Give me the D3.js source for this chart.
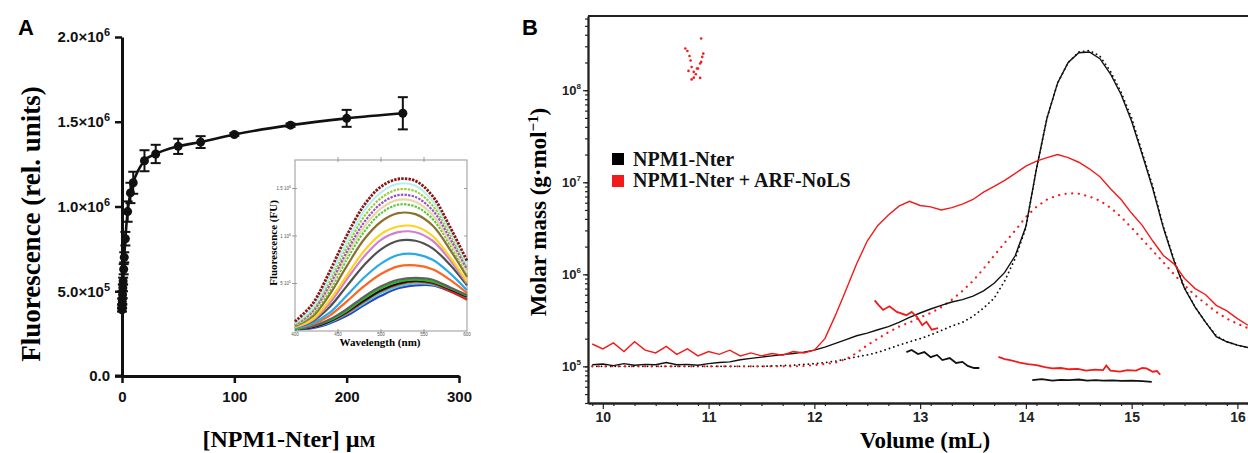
<!DOCTYPE html>
<html>
<head>
<meta charset="utf-8">
<script src="https://cdn.jsdelivr.net/npm/d3@7"></script>
<style>
  body { margin: 0; background: #fff; }
  svg { display: block; }
</style>
</head>
<body>
<svg id="fig" width="1248" height="453"></svg>
<script>
// ---------- panel A : titration ----------
const conc    = [0, 0.1, 0.25, 0.5, 0.75, 1, 1.5, 2, 3, 5, 7.5, 10, 20, 30, 50, 70, 100, 150, 200, 250];
const fluo    = [0.39, 0.41, 0.44, 0.48, 0.52, 0.56, 0.63, 0.70, 0.81, 0.97, 1.08, 1.14, 1.27, 1.31, 1.355, 1.38, 1.425, 1.48, 1.52, 1.55];
const fluoErr = [0.01, 0.01, 0.015, 0.02, 0.02, 0.02, 0.03, 0.03, 0.04, 0.06, 0.06, 0.065, 0.062, 0.054, 0.045, 0.035, 0.008, 0.01, 0.05, 0.095];
const aYTicks = [0, 0.5, 1.0, 1.5, 2.0];
const aXTicks = [0, 100, 200, 300];

// inset : emission spectra (x 10^6 FU)
const wavelength = [400, 420, 440, 460, 480, 500, 520, 540, 560, 580, 600];
const spectra = [
  [0.10, 0.28, 0.62, 1.00, 1.32, 1.52, 1.60, 1.58, 1.42, 1.10, 0.74],
  [0.08, 0.24, 0.56, 0.93, 1.26, 1.46, 1.55, 1.53, 1.37, 1.06, 0.70],
  [0.07, 0.22, 0.52, 0.88, 1.20, 1.40, 1.49, 1.47, 1.32, 1.02, 0.68],
  [0.06, 0.20, 0.48, 0.83, 1.14, 1.34, 1.43, 1.41, 1.27, 0.98, 0.65],
  [0.06, 0.19, 0.45, 0.79, 1.09, 1.29, 1.38, 1.36, 1.22, 0.94, 0.62],
  [0.05, 0.17, 0.42, 0.75, 1.04, 1.24, 1.33, 1.31, 1.18, 0.91, 0.60],
  [0.05, 0.15, 0.38, 0.68, 0.96, 1.15, 1.24, 1.23, 1.11, 0.86, 0.57],
  [0.04, 0.12, 0.32, 0.58, 0.84, 1.02, 1.10, 1.10, 1.00, 0.78, 0.52],
  [0.04, 0.11, 0.29, 0.54, 0.78, 0.96, 1.04, 1.04, 0.95, 0.75, 0.50],
  [0.04, 0.10, 0.25, 0.47, 0.69, 0.86, 0.95, 0.95, 0.87, 0.70, 0.48],
  [0.03, 0.08, 0.19, 0.37, 0.56, 0.71, 0.80, 0.81, 0.75, 0.61, 0.43],
  [0.03, 0.07, 0.16, 0.31, 0.47, 0.60, 0.68, 0.69, 0.65, 0.54, 0.40],
  [0.03, 0.05, 0.12, 0.23, 0.36, 0.47, 0.54, 0.56, 0.54, 0.46, 0.38],
  [0.02, 0.05, 0.11, 0.21, 0.34, 0.45, 0.52, 0.54, 0.52, 0.45, 0.37],
  [0.02, 0.04, 0.10, 0.20, 0.32, 0.43, 0.50, 0.53, 0.51, 0.44, 0.36],
  [0.02, 0.04, 0.10, 0.19, 0.31, 0.42, 0.49, 0.52, 0.50, 0.42, 0.33],
  [0.02, 0.04, 0.09, 0.18, 0.29, 0.40, 0.47, 0.50, 0.49, 0.43, 0.35],
  [0.02, 0.03, 0.08, 0.16, 0.27, 0.37, 0.45, 0.48, 0.48, 0.42, 0.34]
];
const spectraColors = ["#8b1414", "#b4f0f0", "#9acd32", "#9b4fc8", "#e8d8a8", "#5cc83c", "#8b7030", "#ffd21e",
  "#d27fd2", "#505050", "#28aae6", "#ff6420", "#606060", "#2db82d", "#111111", "#e62020", "#40d0d0", "#3040c0"];
const insetYTicks = [0.5, 1.0, 1.5];
const insetXTicks = [400, 450, 500, 550, 600];

// ---------- panel B : SEC-MALS ----------
const volume = d3.range(63).map(i => +(9.9 + i * 0.1).toFixed(1));   // 9.9 ... 16.1 mL grid
const blackSolid = [1.04e5, 1.06e5, 1.02e5, 1.07e5, 1.03e5, 1.05e5, 1.04e5, 1.10e5, 1.04e5, 1.05e5, 1.03e5, 1.07e5, 1.10e5, 1.12e5, 1.18e5,
  1.22e5, 1.26e5, 1.30e5, 1.34e5, 1.38e5, 1.43e5, 1.50e5, 1.62e5, 1.78e5, 1.95e5, 2.15e5, 2.30e5, 2.50e5, 2.70e5, 3.0e5, 3.4e5, 3.8e5,
  4.2e5, 4.6e5, 5.0e5, 5.3e5, 5.8e5, 6.6e5, 8.0e5, 1.05e6, 1.6e6, 3.3e6, 1.4e7, 5.0e7, 1.2e8, 2.0e8, 2.55e8, 2.6e8, 2.2e8, 1.5e8,
  9.0e7, 4.6e7, 2.0e7, 8.5e6, 3.2e6, 1.4e6, 7.0e5, 4.4e5, 3.0e5, 2.1e5, 1.85e5, 1.7e5, 1.6e5];
const blackDotted = [1.0e5, 1.0e5, 1.0e5, 1.0e5, 1.0e5, 1.0e5, 1.0e5, 1.0e5, 1.0e5, 1.0e5, 1.0e5, 1.0e5, 1.0e5, 1.0e5, 1.0e5,
  1.0e5, 1.0e5, 1.01e5, 1.02e5, 1.03e5, 1.05e5, 1.07e5, 1.10e5, 1.14e5, 1.20e5, 1.27e5, 1.33e5, 1.42e5, 1.55e5, 1.70e5, 1.85e5, 2.0e5,
  2.2e5, 2.45e5, 2.75e5, 3.0e5, 3.5e5, 4.3e5, 5.5e5, 8.5e5, 1.5e6, 3.2e6, 1.4e7, 5.0e7, 1.2e8, 2.0e8, 2.6e8, 2.7e8, 2.35e8, 1.6e8,
  9.5e7, 5.0e7, 2.1e7, 9.0e6, 3.3e6, 1.45e6, 7.2e5, 4.4e5, 3.0e5, 2.15e5, 1.85e5, 1.7e5, 1.6e5];
const redSolid = [1.75e5, 1.55e5, 1.80e5, 1.45e5, 1.85e5, 1.50e5, 1.40e5, 1.65e5, 1.35e5, 1.55e5, 1.30e5, 1.45e5, 1.35e5, 1.50e5, 1.30e5,
  1.40e5, 1.30e5, 1.38e5, 1.32e5, 1.45e5, 1.40e5, 1.50e5, 2.0e5, 3.6e5, 6.8e5, 1.3e6, 2.3e6, 3.4e6, 4.4e6, 5.5e6, 6.2e6, 5.6e6,
  5.4e6, 5.0e6, 5.3e6, 5.8e6, 6.5e6, 7.8e6, 9.0e6, 1.05e7, 1.25e7, 1.5e7, 1.7e7, 1.85e7, 2.0e7, 1.85e7, 1.65e7, 1.4e7, 1.15e7, 8.5e6,
  6.5e6, 4.6e6, 3.4e6, 2.3e6, 1.6e6, 1.3e6, 9.0e5, 7.0e5, 6.0e5, 4.6e5, 4.0e5, 3.3e5, 2.8e5];
const redDotted = [1.0e5, 1.0e5, 1.0e5, 1.0e5, 1.0e5, 1.0e5, 1.0e5, 1.0e5, 1.0e5, 1.0e5, 1.0e5, 1.0e5, 1.0e5, 1.0e5, 1.0e5,
  1.0e5, 1.0e5, 1.0e5, 1.0e5, 1.0e5, 1.01e5, 1.03e5, 1.06e5, 1.10e5, 1.20e5, 1.40e5, 1.70e5, 2.0e5, 2.35e5, 2.7e5, 3.0e5, 3.4e5,
  3.8e5, 4.4e5, 5.3e5, 6.6e5, 8.5e5, 1.15e6, 1.6e6, 2.2e6, 3.0e6, 4.2e6, 5.4e6, 6.5e6, 7.2e6, 7.6e6, 7.5e6, 7.0e6, 6.3e6, 5.3e6,
  4.2e6, 3.2e6, 2.4e6, 1.8e6, 1.35e6, 1.0e6, 7.6e5, 5.9e5, 4.8e5, 3.9e5, 3.3e5, 2.9e5, 2.6e5];

// molar mass segments [volume mL, g/mol]
const redScatter = [[10.78, 2.84e8], [10.80, 2.67e8], [10.82, 2.35e8], [10.83, 2.10e8], [10.81, 1.62e8], [10.84, 1.79e8], [10.86, 1.58e8],
  [10.88, 1.49e8], [10.84, 1.31e8], [10.86, 1.37e8], [10.92, 1.36e8], [10.90, 1.72e8], [10.92, 1.95e8], [10.93, 2.03e8], [10.95, 2.50e8],
  [10.93, 3.65e8], [10.89, 1.72e8], [10.94, 2.30e8]];
const redMass1 = [[12.57, 5.2e5], [12.61, 4.6e5], [12.65, 4.1e5], [12.71, 4.5e5], [12.78, 3.9e5], [12.87, 3.6e5], [12.92, 3.9e5],
  [12.97, 3.45e5], [13.02, 2.8e5], [13.06, 3.05e5], [13.11, 2.5e5], [13.17, 2.6e5]];
const blackMass1 = [[12.87, 1.43e5], [12.92, 1.51e5], [12.98, 1.36e5], [13.04, 1.43e5], [13.10, 1.26e5], [13.16, 1.33e5], [13.21, 1.17e5],
  [13.28, 1.23e5], [13.34, 1.09e5], [13.40, 1.12e5], [13.45, 1.01e5], [13.51, 9.6e4], [13.56, 9.6e4]];
const redMass2 = [[13.74, 1.27e5], [13.80, 1.20e5], [13.85, 1.17e5], [13.94, 1.10e5], [14.02, 1.06e5], [14.10, 1.03e5], [14.18, 9.8e4],
  [14.25, 9.5e4], [14.33, 9.6e4], [14.41, 9.3e4], [14.49, 9.4e4], [14.57, 9.0e4], [14.65, 9.2e4], [14.73, 9.1e4], [14.76, 1.02e5],
  [14.80, 9.0e4], [14.89, 8.75e4], [14.96, 9.1e4], [15.04, 9.0e4], [15.10, 9.6e4], [15.14, 9.5e4], [15.20, 8.75e4], [15.24, 8.9e4], [15.27, 8.1e4]];
const blackMass2 = [[14.06, 7.1e4], [14.15, 7.25e4], [14.25, 7.0e4], [14.33, 7.15e4], [14.41, 7.1e4], [14.50, 7.2e4], [14.58, 7.0e4],
  [14.66, 7.1e4], [14.73, 7.0e4], [14.82, 7.05e4], [14.90, 6.95e4], [15.00, 7.0e4], [15.10, 6.9e4], [15.19, 6.8e4]];
const bXTicks = [10, 11, 12, 13, 14, 15, 16];
const legendLabels = ["NPM1-Nter", "NPM1-Nter + ARF-NoLS"];
const legendColors = ["#000000", "#f21b1b"];

const RED = "#f21b1b";
const SANS = "'Liberation Sans', Arial, sans-serif";
const SERIF = "'Liberation Serif', 'Times New Roman', serif";

const svg = d3.select("#fig");
svg.append("rect").attr("width", 1248).attr("height", 453).attr("fill", "#fff");

// helper: write "base" + superscript into a text node
function supText(sel, base, sup, supSize, dy) {
  sel.text(null);
  sel.append("tspan").text(base);
  sel.append("tspan").attr("dy", dy).attr("font-size", supSize).text(sup);
}

// =================== PANEL A ===================
const xA = d3.scaleLinear().domain([0, 300]).range([122, 459]);
const yA = d3.scaleLinear().domain([0, 2.0]).range([376, 37]);

svg.append("text").attr("x", 18).attr("y", 35).text("A")
  .attr("font-family", SANS).attr("font-weight", "bold").attr("font-size", 22);

const axA = svg.append("g").attr("class", "axisA");
axA.append("g").attr("transform", "translate(122,0)")
  .call(d3.axisLeft(yA).tickValues(aYTicks).tickSize(7).tickPadding(5).tickSizeOuter(0))
  .call(g => g.selectAll(".tick text").each(function (d) {
    const t = d3.select(this).attr("font-family", SANS).attr("font-weight", "bold").attr("font-size", 15).attr("fill", "#111");
    if (d === 0) t.text("0.0");
    else if (d === 0.5) supText(t, "5.0×10", "5", 11, -6);
    else supText(t, d.toFixed(1) + "×10", "6", 11, -6);
  }));
axA.append("g").attr("transform", "translate(0,376)")
  .call(d3.axisBottom(xA).tickValues(aXTicks).tickSize(7).tickPadding(8).tickSizeOuter(0))
  .call(g => g.selectAll(".tick text").attr("font-family", SANS).attr("font-weight", "bold").attr("font-size", 15).attr("fill", "#111"));
axA.selectAll("path.domain").attr("stroke", "#111").attr("stroke-width", 3);
axA.selectAll(".tick line").attr("stroke", "#111").attr("stroke-width", 2.5);
// extend x axis line slightly left of zero (as in the figure)
axA.append("line").attr("x1", 115).attr("x2", 122).attr("y1", 376).attr("y2", 376)
  .attr("stroke", "#111").attr("stroke-width", 3);

svg.append("text")
  .attr("transform", "translate(40,224) rotate(-90)")
  .attr("text-anchor", "middle")
  .attr("font-family", SERIF).attr("font-weight", "bold").attr("font-size", 27)
  .text("Fluorescence (rel. units)");

const xlabA = svg.append("text").attr("x", 289).attr("y", 447).attr("text-anchor", "middle")
  .attr("font-family", SERIF).attr("font-weight", "bold").attr("font-size", 24);
xlabA.append("tspan").text("[NPM1-Nter] µ");
xlabA.append("tspan").attr("font-size", 17).text("M");

// inset
const xI = d3.scaleLinear().domain([400, 600]).range([295, 467]);
const yI = d3.scaleLinear().domain([0, 1.8]).range([331, 160]);
const inset = svg.append("g");
inset.append("rect").attr("x", 295).attr("y", 160).attr("width", 172).attr("height", 171)
  .attr("fill", "#fff").attr("stroke", "#a8a8a8").attr("stroke-width", 1.2);

const specLine = d3.line().x((d, i) => xI(wavelength[i])).y(d => yI(d)).curve(d3.curveCatmullRom);
spectra.slice().reverse().forEach((s, k) => {
  const i = spectra.length - 1 - k;
  inset.append("path").attr("d", specLine(s))
    .attr("fill", "none").attr("stroke", spectraColors[i])
    .attr("stroke-width", i === 0 ? 2.8 : 2.2)
    .attr("stroke-dasharray", (i === 0 || i === 2 || i === 3 || i === 5) ? "2.4,1.2" : null);
});

inset.selectAll(".ity").data(insetYTicks).enter().append("g").each(function (d) {
  const g = d3.select(this);
  g.append("line").attr("x1", 292).attr("x2", 297).attr("y1", yI(d)).attr("y2", yI(d)).attr("stroke", "#888").attr("stroke-width", 0.8);
  g.append("line").attr("x1", 464).attr("x2", 467).attr("y1", yI(d)).attr("y2", yI(d)).attr("stroke", "#888").attr("stroke-width", 0.8);
  const t = g.append("text").attr("x", 291).attr("y", yI(d) + 1.5).attr("text-anchor", "end")
    .attr("font-family", SANS).attr("font-size", 4.5).attr("fill", "#555");
  supText(t, (d === 0.5 ? "5" : d === 1 ? "1" : "1.5") + " 10", d === 0.5 ? "5" : "6", 3.5, -2);
});
inset.selectAll(".itx").data(insetXTicks).enter().append("g").each(function (d) {
  const g = d3.select(this);
  if (d > 400 && d < 600) {
    g.append("line").attr("x1", xI(d)).attr("x2", xI(d)).attr("y1", 157).attr("y2", 162).attr("stroke", "#888").attr("stroke-width", 0.8);
    g.append("line").attr("x1", xI(d)).attr("x2", xI(d)).attr("y1", 329).attr("y2", 333).attr("stroke", "#888").attr("stroke-width", 0.8);
  }
  g.append("text").attr("x", xI(d)).attr("y", 336).attr("text-anchor", "middle")
    .attr("font-family", SANS).attr("font-size", 4.5).attr("fill", "#555").text(d);
});
inset.append("text").attr("transform", "translate(277,243) rotate(-90)").attr("text-anchor", "middle")
  .attr("font-family", SERIF).attr("font-weight", "bold").attr("font-size", 11).text("Fluorescence (FU)");
inset.append("text").attr("x", 380).attr("y", 346).attr("text-anchor", "middle")
  .attr("font-family", SERIF).attr("font-weight", "bold").attr("font-size", 11).text("Wavelength (nm)");

// data: fit line, error bars, points
const fitLine = d3.line().x((d, i) => xA(conc[i])).y(d => yA(d)).curve(d3.curveMonotoneX);
svg.append("path").attr("d", fitLine(fluo)).attr("fill", "none").attr("stroke", "#111").attr("stroke-width", 2.6);

const eb = svg.append("g").attr("stroke", "#111").attr("stroke-width", 2);
conc.forEach((c, i) => {
  const x = xA(c), y0 = yA(fluo[i] - fluoErr[i]), y1 = yA(fluo[i] + fluoErr[i]);
  eb.append("line").attr("x1", x).attr("x2", x).attr("y1", y0).attr("y2", y1);
  eb.append("line").attr("x1", x - 5).attr("x2", x + 5).attr("y1", y0).attr("y2", y0);
  eb.append("line").attr("x1", x - 5).attr("x2", x + 5).attr("y1", y1).attr("y2", y1);
});
svg.selectAll(".ptA").data(conc).enter().append("circle")
  .attr("cx", d => xA(d)).attr("cy", (d, i) => yA(fluo[i])).attr("r", 4.5).attr("fill", "#111");

// =================== PANEL B ===================
const xB = d3.scaleLinear().domain([9.86, 16.1]).range([588, 1248]);
const yB = d3.scaleLog().domain([4e4, 6.4e8]).range([403, 16]);

svg.append("text").attr("x", 522).attr("y", 35).text("B")
  .attr("font-family", SANS).attr("font-weight", "bold").attr("font-size", 22);

const axB = svg.append("g");
const bMinor = d3.range(9.9, 16.11, 0.2).map(v => +v.toFixed(1)).filter(v => !bXTicks.includes(v) && Math.abs(v - Math.round(v)) > 0.01);
axB.append("g").attr("transform", "translate(0,403)")
  .call(d3.axisBottom(xB).tickValues(bMinor).tickSize(3).tickFormat("").tickSizeOuter(0));
axB.append("g").attr("transform", "translate(0,403)")
  .call(d3.axisBottom(xB).tickValues(bXTicks).tickSize(6).tickPadding(3).tickFormat(d3.format("d")).tickSizeOuter(0))
  .call(g => g.selectAll(".tick text").attr("font-family", SANS).attr("font-weight", "bold").attr("font-size", 14).attr("fill", "#222"));

const logTicks = [];
[4, 5, 6, 7, 8].forEach(e => { for (let m = 1; m <= 9; m++) { const v = m * Math.pow(10, e); if (v >= 4e4 && v <= 6.4e8) logTicks.push(v); } });
axB.append("g").attr("transform", "translate(588,0)")
  .call(d3.axisLeft(yB).tickValues(logTicks).tickSize(3).tickFormat("").tickSizeOuter(0));
axB.append("g").attr("transform", "translate(588,0)")
  .call(d3.axisLeft(yB).tickValues([1e5, 1e6, 1e7, 1e8]).tickSize(5).tickPadding(2).tickSizeOuter(0))
  .call(g => g.selectAll(".tick text").each(function (d) {
    const t = d3.select(this).attr("font-family", SANS).attr("font-weight", "bold").attr("font-size", 13).attr("fill", "#222");
    supText(t, "10", String(Math.round(Math.log10(d))), 8, -6);
  }));
axB.selectAll("path.domain").attr("stroke", "#222").attr("stroke-width", 1.8);
axB.selectAll(".tick line").attr("stroke", "#222").attr("stroke-width", 1.2);
axB.append("line").attr("x1", 588).attr("x2", 1248).attr("y1", 16).attr("y2", 16).attr("stroke", "#222").attr("stroke-width", 1.8);

svg.append("text")
  .attr("transform", "translate(546,212) rotate(-90)")
  .attr("text-anchor", "middle")
  .attr("font-family", SERIF).attr("font-weight", "bold").attr("font-size", 23)
  .html("Molar mass (g·mol<tspan dy='-8' font-size='15'>−1</tspan><tspan dy='8'>)</tspan>");
svg.append("text").attr("x", 925).attr("y", 448).attr("text-anchor", "middle")
  .attr("font-family", SERIF).attr("font-weight", "bold").attr("font-size", 23).text("Volume (mL)");

const plotB = svg.append("g");
const trace = d3.line().x((d, i) => xB(volume[i])).y(d => yB(d));
const seg = d3.line().x(d => xB(d[0])).y(d => yB(d[1]));

plotB.append("path").attr("d", trace(blackDotted)).attr("fill", "none").attr("stroke", "#111")
  .attr("stroke-width", 1.8).attr("stroke-dasharray", "0.1,4.5").attr("stroke-linecap", "round");
plotB.append("path").attr("d", trace(redDotted)).attr("fill", "none").attr("stroke", RED)
  .attr("stroke-width", 2.2).attr("stroke-dasharray", "0.1,6.5").attr("stroke-linecap", "round");
plotB.append("path").attr("d", trace(blackSolid)).attr("fill", "none").attr("stroke", "#111").attr("stroke-width", 1.4);
plotB.append("path").attr("d", trace(redSolid)).attr("fill", "none").attr("stroke", RED).attr("stroke-width", 1.4);

[[redMass1, RED], [blackMass1, "#111"], [redMass2, RED], [blackMass2, "#111"]].forEach(([s, c]) => {
  plotB.append("path").attr("d", seg(s)).attr("fill", "none").attr("stroke", c).attr("stroke-width", 1.8);
});
plotB.selectAll(".sc").data(redScatter).enter().append("circle")
  .attr("cx", d => xB(d[0])).attr("cy", d => yB(d[1])).attr("r", 1.3).attr("fill", RED);

// legend
const leg = svg.append("g");
legendLabels.forEach((l, i) => {
  leg.append("rect").attr("x", 612).attr("y", 153 + i * 22).attr("width", 12).attr("height", 12).attr("fill", legendColors[i]);
  leg.append("text").attr("x", 633).attr("y", 166 + i * 21).text(l)
    .attr("font-family", SERIF).attr("font-weight", "bold").attr("font-size", 20).attr("fill", "#111");
});
</script>
</body>
</html>
